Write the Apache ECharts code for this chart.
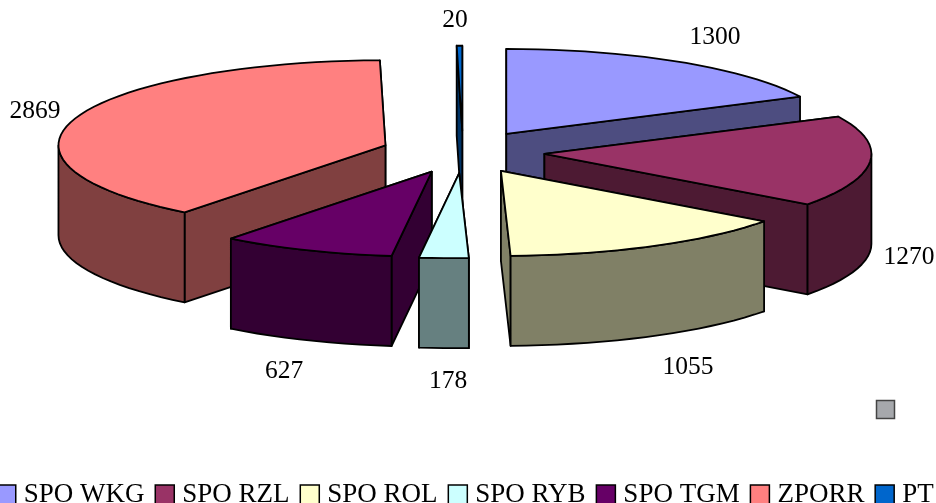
<!DOCTYPE html>
<html><head><meta charset="utf-8">
<style>html,body{margin:0;padding:0;background:#fff;overflow:hidden}#c{width:936px;height:503px}</style>
<script src="https://cdn.jsdelivr.net/npm/echarts@6/dist/echarts.min.js"></script>
</head><body><div id="c"></div>
<script>
const categories = ['SPO WKG','SPO RZL','SPO ROL','SPO RYB','SPO TGM','ZPORR','PT'];
const values = [1300,1270,1055,178,627,2869,20];
const topColors = ['#9999FF','#993366','#FFFFCC','#CCFFFF','#660066','#FF8080','#0066CC'];
const sideColors = ['#4D4D80','#4D1A33','#808066','#668080','#330033','#804040','#003366'];
const labelCenters = [[715,37],[909,257],[688,367],[448,381],[284,371],[35,111],[455,20]];
const drawOrder = [6,0,5,1,4,2,3];

const CX=463, CY=152, RX=327, RY=85, DEPTH=90, EXPLODE=0.25;
const total = values.reduce((a,b)=>a+b,0);
const starts = values.map((_,i)=>values.slice(0,i).reduce((a,b)=>a+b,0)/total*2*Math.PI);

function renderSlice(params, api){
  const i = api.value(0);
  const a0 = starts[i], a1 = a0 + api.value(1)/total*2*Math.PI;
  const mid = (a0+a1)/2;
  const tx = CX + EXPLODE*RX*Math.sin(mid), ty = CY - EXPLODE*RY*Math.cos(mid);
  const pt = a => [tx+RX*Math.sin(a), ty-RY*Math.cos(a)];
  const down = p => [p[0],p[1]+DEPTH];
  const n = Math.max(2,Math.ceil((a1-a0)/0.05));
  const arc = [];
  for(let k=0;k<=n;k++) arc.push(pt(a0+(a1-a0)*k/n));
  const stroke = {stroke:'#000',lineWidth:1.8,lineJoin:'round'};
  const poly = (points,fill)=>({type:'polygon',shape:{points},style:Object.assign({fill},stroke)});
  const side = sideColors[i];
  const tip=[tx,ty], s=arc[0], e=arc[n];
  const faces = [[tip,s,down(s),down(tip)],[tip,e,down(e),down(tip)]]
    .sort((f,g)=>(f[1][1])-(g[1][1]))
    .map(f=>poly(f,side));
  const lo=Math.max(a0,Math.PI/2), hi=Math.min(a1,Math.PI*1.5);
  const children = faces;
  if(hi>lo){
    const m=Math.max(2,Math.ceil((hi-lo)/0.05)), ar=[];
    for(let k=0;k<=m;k++) ar.push(pt(lo+(hi-lo)*k/m));
    children.push(poly(ar.concat(ar.map(down).reverse()),side));
  }
  children.push(poly([tip].concat(arc),topColors[i]));
  const c = labelCenters[i];
  children.push({type:'text',style:{x:c[0],y:c[1],text:String(api.value(1)),fill:'#000',
    font:'25.5px "Liberation Serif"',align:'center',verticalAlign:'middle'}});
  return {type:'group',children};
}

const chart = echarts.init(document.getElementById('c'),null,{renderer:'canvas'});
chart.setOption({
  animation:false,
  backgroundColor:'#fff',
  legend:{
    data:categories,left:-4,top:481,padding:0,orient:'horizontal',
    itemWidth:19,itemHeight:19,itemGap:10,icon:'rect',selectedMode:false,
    itemStyle:{borderColor:'#000',borderWidth:1.5},
    textStyle:{fontFamily:'Liberation Serif',fontSize:27,color:'#000',padding:[0,0,0,3]}
  },
  graphic:[{type:'rect',shape:{x:876.5,y:400.5,width:18,height:18},
    style:{fill:'#A6A8AC',stroke:'#444',lineWidth:1.5},silent:true}],
  series:drawOrder.map((i,z)=>({
    type:'custom',name:categories[i],coordinateSystem:'none',silent:true,z:2+z,
    itemStyle:{color:topColors[i]},
    encode:{value:1},
    data:[[i,values[i]]],
    renderItem:renderSlice
  }))
});
</script></body></html>
